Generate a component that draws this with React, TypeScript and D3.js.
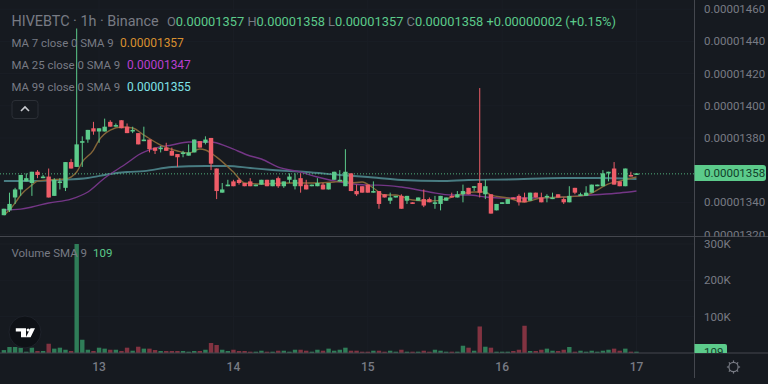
import React from "react";
import * as d3 from "d3";

const opens = [1332,1335,1343,1348,1353,1352,1359,1355,1356,1344,1352,1349,1365,1362,1377,1379,1386,1384,1384,1390,1387,1391,1387,1384,1383,1378,1379,1374,1373,1374,1372,1370,1370,1369,1371,1378,1377,1380,1361,1346,1350,1353,1354,1352,1353,1350,1351,1354,1350,1355,1350,1354,1350,1355,1351,1350,1350,1351,1348,1354,1353,1350,1358,1347,1350,1351,1346,1347,1345,1341,1343,1344,1341,1340,1341,1342,1342,1339,1339,1341,1344,1343,1345,1349,1349,1352,1345,1345,1335,1339,1339,1343,1344,1343,1341,1346,1343,1343,1342,1345,1342,1340,1349,1344,1344,1346,1350,1350,1358,1361,1353,1350,1357,1357];
const closes = [1336,1339,1348,1357,1355,1359,1357,1356,1343,1354,1353,1365,1361,1376,1378,1385,1384,1386,1387,1387,1388,1386,1383,1385,1376,1379,1373,1372,1374,1372,1369,1368,1371,1371,1379,1374,1379,1364,1347,1348,1351,1350,1352,1350,1350,1351,1354,1350,1354,1350,1353,1356,1354,1350,1348,1351,1352,1348,1352,1359,1354,1359,1347,1345,1346,1346,1347,1339,1343,1343,1344,1336,1344,1339,1343,1338,1340,1340,1344,1343,1343,1345,1347,1345,1350,1346,1350,1333,1339,1340,1342,1342,1340,1340,1346,1343,1340,1344,1343,1343,1340,1344,1346,1345,1346,1351,1351,1358,1359,1351,1350,1361,1356,1358];
const highs = [1336,1346,1349,1357,1358,1359,1360,1357,1361,1355,1355,1365,1367,1448,1381,1385,1390,1386,1392,1391,1389,1391,1389,1387,1383,1387,1379,1374,1375,1377,1374,1370,1372,1376,1379,1378,1381,1380,1361,1352,1354,1354,1355,1352,1355,1351,1354,1354,1354,1356,1353,1358,1358,1358,1354,1351,1355,1352,1352,1359,1360,1373,1358,1351,1350,1351,1353,1347,1345,1346,1344,1345,1344,1340,1343,1348,1343,1344,1344,1343,1346,1347,1351,1349,1350,1411,1354,1345,1339,1340,1342,1343,1345,1346,1346,1346,1346,1345,1346,1345,1343,1350,1349,1346,1350,1351,1351,1360,1359,1365,1353,1361,1359,1358];
const lows = [1332,1334,1339,1344,1353,1344,1355,1355,1343,1344,1348,1347,1361,1362,1362,1377,1382,1377,1384,1387,1387,1386,1383,1383,1376,1378,1371,1370,1371,1372,1369,1362,1368,1369,1371,1374,1376,1360,1342,1346,1350,1350,1351,1350,1350,1350,1351,1350,1350,1349,1349,1352,1348,1346,1348,1350,1350,1348,1348,1354,1353,1350,1347,1344,1346,1346,1346,1336,1343,1339,1343,1336,1339,1339,1341,1337,1340,1336,1335,1341,1343,1343,1340,1345,1347,1343,1342,1333,1335,1339,1339,1342,1338,1340,1341,1343,1340,1340,1342,1343,1339,1340,1345,1344,1344,1346,1350,1350,1353,1351,1350,1350,1356,1357];
const volumesK = [8,16.5,16.5,14.6,3.6,14.6,5.5,5.5,25.5,12,14.6,9,5.5,300,36.5,9,5.5,14.6,12,9,9,5.5,14.6,6.3,17.3,12,12,8.2,5.5,5.5,5.5,5.5,5.5,3.6,5.5,5.5,9,27.5,22,9,5.5,9,5.5,5.5,3.6,3.6,6.3,3.6,3.6,6.3,6.3,3.6,9,9,6.3,3.6,9,6.3,12,6.3,9,14.6,6.3,6.3,3.6,3.6,6.3,6.3,3.6,6.3,3.6,9,3.6,3.6,3.6,6.3,3.6,9,6.3,3.6,3.6,3.6,20,14.6,6.3,73,17.3,14.6,3.6,3.6,3.6,5.5,9,75,5.5,5.5,9,12,6.3,5.5,9,16.5,3.6,6.3,3.6,6.3,3.6,6.3,9,12,6.3,12,3.6,3.6];

const ma7Bars = [0,1,2,3,5,6,8,11,13,14,16,17,19,21,23,25,28,31,33,35,36,38,41,43,46,51,56,59,61,62,64,66,68,70,73,76,79,81,84,86,87,90,93,96,100,104,105,108,110,113];
const ma7Values = [1332.1,1335.2,1339.6,1344.5,1350.7,1353.2,1353.9,1354.5,1358.8,1365,1372.5,1378.7,1384.9,1386.8,1386.2,1381.8,1375.6,1371.9,1370.6,1373.1,1372.5,1368.1,1358.8,1352,1351.4,1352,1352,1352.6,1353.2,1352,1352.6,1348.9,1344.5,1344.5,1341.4,1340.8,1342,1344.5,1346.4,1346.4,1344.5,1342.7,1340.2,1342.7,1343.3,1344.5,1345.8,1351.4,1353.2,1355.7];
const ma25Bars = [0,3,5,8,12,15,18,22,24,27,30,33,37,40,44,46,49,53,56,60,65,67,71,76,80,83,86,89,94,100,105,110,113];
const ma25Values = [1335.2,1335.8,1337.1,1339.6,1342,1346.4,1355.1,1364.4,1369.4,1373.7,1375.6,1377.5,1377.5,1374.4,1368.8,1366.9,1361.9,1358.8,1355.7,1352.6,1350.7,1350.7,1349.5,1346.4,1344.5,1344.5,1343.3,1342.7,1342.7,1343.3,1344.5,1345.8,1347];
const ma99Bars = [0,5,10,15,19,22,25,30,36,40,44,48,54,60,65,71,78,83,90,100,106,113];
const ma99Values = [1353.2,1353.2,1353.9,1355.1,1357.6,1358.8,1359.4,1361.9,1362.6,1362.6,1361.3,1360.1,1358.8,1357,1355.7,1353.9,1353.2,1353.9,1354.2,1355.1,1355.1,1354.5];

const priceTicks = [1460,1440,1420,1400,1380,1340,1320];
const volumeTicks = [300,200,100];
const dayTicks = [{ bar: 17, label: "13" },{ bar: 41, label: "14" },{ bar: 65, label: "15" },{ bar: 89, label: "16" },{ bar: 113, label: "17" }];
const lastPrice = 1358;
const lastVolumeLabel = "109";
const ohlcParts = [["O","0.00001357"],["H","0.00001358"],["L","0.00001357"],["C","0.00001358"]];
const maLegend = [
  { label: "MA 7 close 0 SMA 9", value: "0.00001357", color: "#d9902f", x: 120, y: 43 },
  { label: "MA 25 close 0 SMA 9", value: "0.00001347", color: "#b93fd0", x: 127, y: 65 },
  { label: "MA 99 close 0 SMA 9", value: "0.00001355", color: "#7fe3e8", x: 127, y: 87 },
];

const BG = "#161a20";
const GRID = "#1a1e25";
const AXIS = "#44474e";
const TEXT = "#787b84";
const UP = "#5ccb8b";
const DOWN = "#ee5d68";
const FONT = "Roboto, sans-serif";
const W = 768, H = 384;
const PLOT_R = 694.5, PRICE_B = 236.5, VOL_B = 353;

const x = d3.scaleLinear().domain([0, 113]).range([3.9, 636.5]);
const y = d3.scaleLinear().domain([1320, 1460]).range([234.5, 9.2]);
const yVol = d3.scaleLinear().domain([0, 300]).range([VOL_B, 244]);
const fmt = (v: number) => "0." + String(v).padStart(8, "0");

const maPath = (bars: number[], vals: number[]) =>
  d3.line<number>().x((b) => x(b)).y((_, i) => y(vals[i])).curve(d3.curveMonotoneX)(bars) || "";

const gearTeeth = d3.range(8).map((i) => (i * Math.PI) / 4);

export default function App() {
  const bw = 4.4;
  return (
    <svg width={W} height={H} style={{ position: "absolute", left: 0, top: 0, background: BG, fontFamily: FONT }}>
      <defs>
        <clipPath id="pricePane"><rect x={PLOT_R} y={0} width={W - PLOT_R} height={PRICE_B} /></clipPath>
        <clipPath id="volClip"><rect x={PLOT_R} y={344} width={40} height={9} /></clipPath>
      </defs>
      <rect x={0} y={0} width={W} height={H} fill={BG} />
      {priceTicks.map((t) => <line key={t} x1={0} x2={PLOT_R} y1={y(t)} y2={y(t)} stroke={GRID} />)}
      {[...volumeTicks].map((t) => <line key={t} x1={0} x2={PLOT_R} y1={yVol(t)} y2={yVol(t)} stroke={GRID} />)}
      {dayTicks.map((d) => <line key={d.bar} x1={x(d.bar)} x2={x(d.bar)} y1={0} y2={VOL_B} stroke={GRID} />)}

      <path d={maPath(ma99Bars, ma99Values)} fill="none" stroke="#487c82" strokeWidth={1.9} />
      <path d={maPath(ma25Bars, ma25Values)} fill="none" stroke="#743686" strokeWidth={1.4} />
      <path d={maPath(ma7Bars, ma7Values)} fill="none" stroke="#846538" strokeWidth={1.4} />
      <line x1={0} x2={PLOT_R} y1={y(lastPrice) + 0.5} y2={y(lastPrice) + 0.5} stroke={UP} strokeWidth={1} strokeDasharray="1 2" opacity={0.85} />

      {opens.map((o, i) => {
        const c = closes[i];
        const col = c >= o ? UP : DOWN;
        const top = y(Math.max(o, c));
        const bot = y(Math.min(o, c));
        return (
          <g key={i}>
            <line x1={x(i)} x2={x(i)} y1={y(highs[i])} y2={y(lows[i])} stroke={col} strokeWidth={1} />
            <rect x={x(i) - bw / 2} y={top} width={bw} height={Math.max(1, bot - top)} fill={col} />
          </g>
        );
      })}

      {volumesK.map((v, i) => (
        <rect key={i} x={x(i) - bw / 2} y={yVol(v)} width={bw} height={VOL_B - yVol(v)}
          fill={closes[i] >= opens[i] ? "#2f7d58" : "#823341"} />
      ))}

      <line x1={0} x2={W} y1={PRICE_B} y2={PRICE_B} stroke={AXIS} strokeWidth={1} />
      <line x1={0} x2={W} y1={VOL_B} y2={VOL_B} stroke={AXIS} strokeWidth={1} />
      <line x1={PLOT_R} x2={PLOT_R} y1={0} y2={378} stroke={AXIS} strokeWidth={1} />

      <g clipPath="url(#pricePane)">
        {priceTicks.map((t) => (
          <text key={t} x={704} y={y(t) + 4} fontSize={11.5} fill={TEXT}>{fmt(t)}</text>
        ))}
      </g>
      <g>
        <path d={`M${PLOT_R},165 H763 a3,3 0 0 1 3,3 V178 a3,3 0 0 1 -3,3 H${PLOT_R} Z`} fill={UP} />
        <text x={704} y={177} fontSize={11.5} fill="#123f2a">{fmt(lastPrice)}</text>
      </g>
      {volumeTicks.map((t) => (
        <text key={t} x={704} y={yVol(t) + 4} fontSize={11.5} fill={TEXT}>{t}K</text>
      ))}
      <g>
        <path d={`M${PLOT_R},344 H725 a2,2 0 0 1 2,2 V353 H${PLOT_R} Z`} fill={UP} />
        <text x={704} y={356} fontSize={11.5} fill="#123f2a" clipPath="url(#volClip)">{lastVolumeLabel}</text>
      </g>

      {dayTicks.map((d) => (
        <text key={d.bar} x={x(d.bar)} y={371} fontSize={12} fontWeight={500} textAnchor="middle" fill={TEXT}>{d.label}</text>
      ))}

      <text x={11.5} y={26} fontSize={14.4} fill={TEXT}>HIVEBTC · 1h · Binance</text>
      <text x={167} y={25.5} fontSize={12.85} fill={UP}>
        {ohlcParts.map(([k, v]) => (
          <tspan key={k}><tspan fill={TEXT}>{k}</tspan>{v} </tspan>
        ))}
        <tspan>+0.00000002 (+0.15%)</tspan>
      </text>
      {maLegend.map((m) => (
        <g key={m.label}>
          <text x={11.5} y={m.y + 4} fontSize={11.4} fill={TEXT}>{m.label}</text>
          <text x={m.x} y={m.y + 4} fontSize={12} fill={m.color}>{m.value}</text>
        </g>
      ))}
      <text x={11.5} y={257} fontSize={11.5} fill={TEXT}>Volume SMA 9</text>
      <text x={93} y={257} fontSize={11.5} fill="#5cc98a">109</text>

      <rect x={12} y={100.5} width={26} height={18} rx={3} fill={BG} stroke="#2b2f36" />
      <path d="M21,111 L25,107 L29,111" fill="none" stroke="#c9cbd0" strokeWidth={1.6} />

      <circle cx={25} cy={332} r={16} fill="#0e1116" stroke="#1e222a" />
      <path d="M15.8,328.3 H26 V337.3 H21 V331.6 H15.8 Z M30.5,328.3 H35 L30.6,337.3 H25.9 Z" fill="#fff" />
      <circle cx={28.2} cy={330} r={1.6} fill="#fff" />

      <g transform="translate(733.5,367)" fill="none" stroke="#787b84" strokeWidth={1.2}>
        <circle r={4.6} />
        {gearTeeth.map((a) => (
          <line key={a} x1={4.6 * Math.cos(a)} y1={4.6 * Math.sin(a)} x2={6.6 * Math.cos(a)} y2={6.6 * Math.sin(a)} />
        ))}
      </g>
    </svg>
  );
}
